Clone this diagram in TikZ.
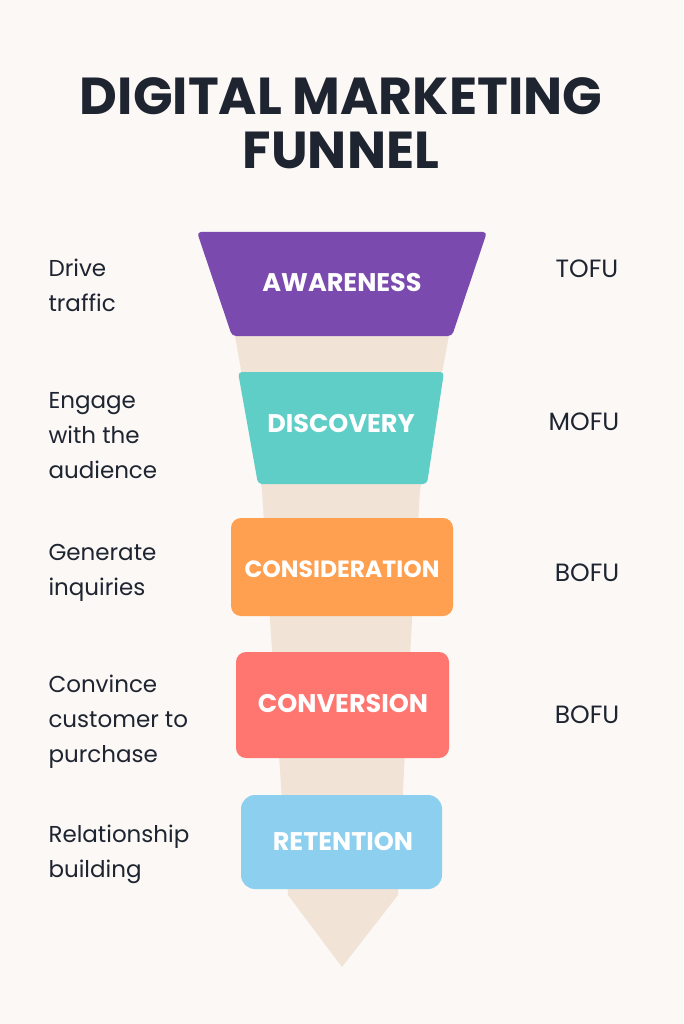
\documentclass[tikz,border=0pt]{standalone}
\usepackage{fontspec}
\setmainfont{Poppins}
\begin{document}
\begin{tikzpicture}[x=1pt,y=-1pt,
 stage/.style={text=white,font=\bfseries\fontsize{25.5}{30}\selectfont},
 side/.style={anchor=west,align=left,text=ink,font=\fontsize{23}{35}\selectfont},
 tag/.style={text=ink,font=\fontsize{25}{30}\selectfont}]
\definecolor{bg}{HTML}{FBF8F5}\definecolor{ink}{HTML}{1E2430}
\definecolor{beige}{HTML}{F1E3D6}\definecolor{purp}{HTML}{7A4AAF}
\definecolor{teal}{HTML}{5ECEC6}\definecolor{orng}{HTML}{FF9F50}
\definecolor{coral}{HTML}{FF7670}\definecolor{sky}{HTML}{8DCFEE}
\fill[bg] (0,0) rectangle (683,1024);
\useasboundingbox (0,0) rectangle (683,1024);
\node[text=ink,font=\bfseries\fontsize{52}{54}\selectfont,align=center] (title) at (341,123) {DIGITAL MARKETING\\FUNNEL};
\fill[beige] (234,330) -- (450,330) -- (420,490) -- (412,620) -- (404,770) -- (398,895) -- (342,967) -- (288,895) -- (280,770) -- (270,620) -- (262,490) -- cycle;
\fill[purp,rounded corners=4pt] (197,232) -- (487,232) -- (452,336) -- (232,336) -- cycle;
\node[stage] (aw) at (342,283) {AWARENESS};
\fill[teal,rounded corners=4pt] (238,372) -- (444,372) -- (427,484) -- (258,484) -- cycle;
\node[stage] (di) at (341,424) {DISCOVERY};
\fill[orng,rounded corners=10pt] (231,518) rectangle (453,616);
\node[stage,font=\bfseries\fontsize{23.5}{28}\selectfont] (co) at (342,569) {CONSIDERATION};
\fill[coral,rounded corners=10pt] (236,652) rectangle (449,758);
\node[stage] (cv) at (343,704) {CONVERSION};
\fill[sky,rounded corners=14pt] (241,795) rectangle (442,889);
\node[stage] (re) at (343,842) {RETENTION};
\node[side] (l1) at (45,285) {Drive\\traffic};
\node[side] (l2) at (45,436) {Engage\\with the\\audience};
\node[side] (l3) at (45,573) {Generate\\inquiries};
\node[side] (l4) at (45,722) {Convince\\customer to\\purchase};
\node[side] (l5) at (45,854) {Relationship\\building};
\node[tag] (t1) at (587,269) {TOFU};
\node[tag] (t2) at (584,422) {MOFU};
\node[tag] (t3) at (587,573) {BOFU};
\node[tag] (t4) at (587,715) {BOFU};
\end{tikzpicture}
\end{document}
